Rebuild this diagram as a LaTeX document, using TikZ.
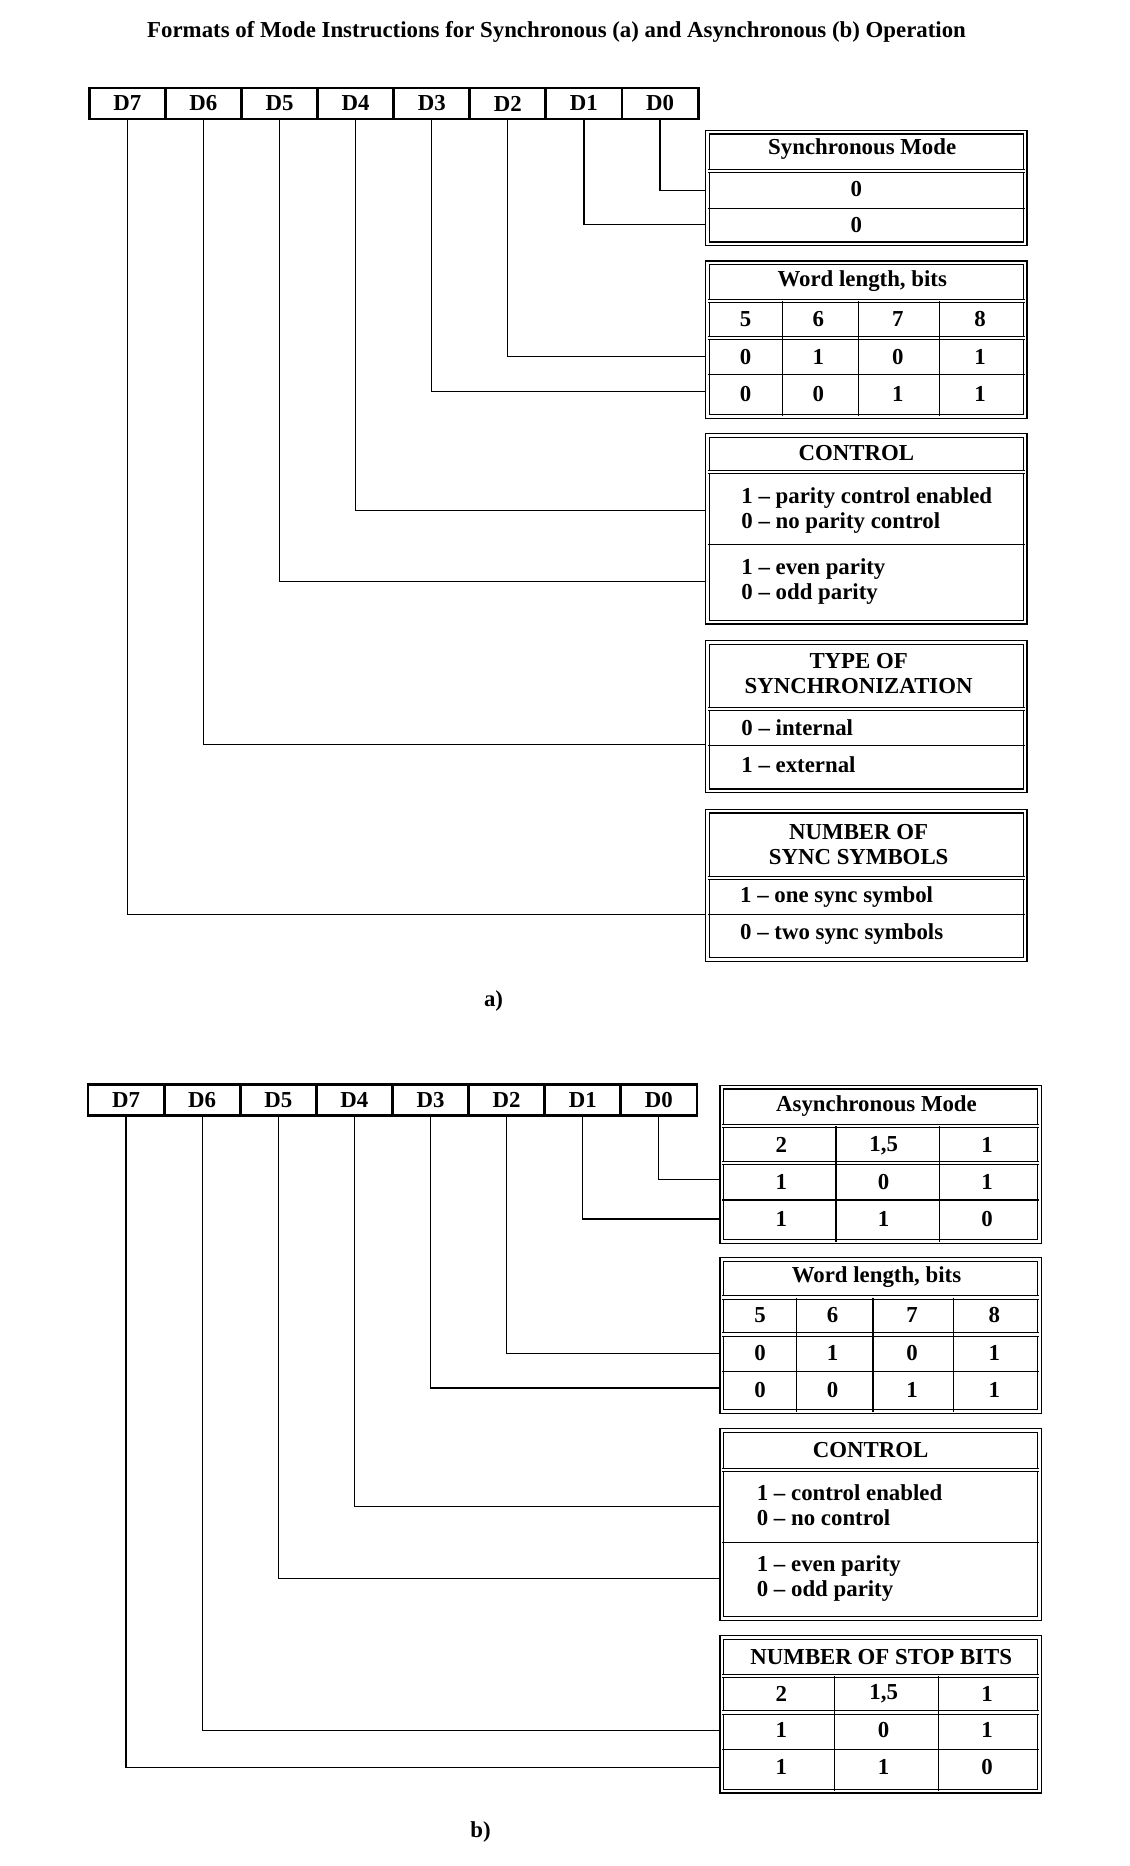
\documentclass[tikz,border=0pt]{standalone}
\usepackage{fontspec}
\setmainfont{Liberation Serif}
\usetikzlibrary{positioning,calc}
\tikzset{
  bit/.style={rectangle, draw, line width=1.2pt, minimum width=32pt, minimum height=13pt, inner sep=0pt, font=\fontsize{9.6}{11}\selectfont\bfseries},
  frame/.style={double, double distance=1.1pt, line width=0.5pt},
  sep/.style={line width=0.5pt},
  hsep/.style={double, double distance=1pt, line width=0.4pt},
  txt/.style={font=\fontsize{9.6}{10.5}\selectfont\bfseries, inner sep=0pt, align=center},
  ltxt/.style={font=\fontsize{9.6}{10.5}\selectfont\bfseries, inner sep=0pt, align=left, anchor=west},
  wire/.style={line width=0.5pt}
}
\begin{document}
\begin{tikzpicture}[x=0.5pt, y=-0.5pt]
\useasboundingbox (0,0) rectangle (950,1569);

\node[txt, font=\fontsize{9.6}{11}\selectfont\bfseries] (title) at (468,27) {Formats of Mode Instructions for Synchronous (a) and Asynchronous (b) Operation};

% bit rows
\foreach \b [count=\i from 0] in {D7,D6,D5,D4,D3,D2,D1,D0} {
  \node[bit] (a\b) at (107+64*\i,87) {\b};
  \node[bit] (b\b) at (106+64*\i,925) {\b};
}

% ---------- a) synchronous ----------
% Synchronous Mode
\draw[frame] (595,111) rectangle (862,205);
\draw[hsep] (595,144) -- (862,144);
\draw[sep] (595,175) -- (862,175);
\node[txt] (sm) at (725,125) {Synchronous Mode};
\node[txt] at (720,159) {0};
\node[txt] at (720,189) {0};
% Word length
\draw[frame] (595,221) rectangle (862,350);
\draw[hsep] (595,253) -- (862,253);
\draw[hsep] (595,284) -- (862,284);
\draw[sep] (595,315) -- (862,315);
\foreach \x in {658,722,790} \draw[sep] (\x,253) -- (\x,350);
\node[txt] at (725,236) {Word length, bits};
\foreach \x/\p/\q/\r in {627/5/0/0,688/6/1/0,755/7/0/1,824/8/1/1} {
  \node[txt] at (\x,268) {\p};
  \node[txt] at (\x,300) {\q};
  \node[txt] at (\x,331) {\r};
}
% Control
\draw[frame] (595,366) rectangle (862,523);
\draw[hsep] (595,397) -- (862,397);
\draw[sep] (595,458) -- (862,458);
\node[txt] at (720,381) {CONTROL};
\node[ltxt] at (623,429) {1 -- parity control enabled\\0 -- no parity control};
\node[ltxt] at (623,489) {1 -- even parity\\0 -- odd parity};
% Type of synchronization
\draw[frame] (595,540) rectangle (862,665);
\draw[hsep] (595,596) -- (862,596);
\draw[sep] (595,627) -- (862,627);
\node[txt] at (722,566) {TYPE OF\\SYNCHRONIZATION};
\node[ltxt] at (623,612) {0 -- internal};
\node[ltxt] at (623,643) {1 -- external};
% Number of sync symbols
\draw[frame] (595,682) rectangle (862,807);
\draw[hsep] (595,738) -- (862,738);
\draw[sep] (595,769) -- (862,769);
\node[txt] at (722,710) {NUMBER OF\\SYNC SYMBOLS};
\node[ltxt] at (622,754) {1 -- one sync symbol};
\node[ltxt] at (622,785) {0 -- two sync symbols};

% wires a)
\foreach \b/\y in {D0/160,D1/189,D2/300,D3/329,D4/429,D5/489,D6/626,D7/769} {
  \coordinate (ea\b) at (593,\y);
  \draw[wire] (a\b.south) |- (ea\b);
}
\node[txt] (la) at (415,842) {a)};

% ---------- b) asynchronous ----------
% Asynchronous Mode
\draw[frame] (607,914) rectangle (874,1044);
\draw[hsep] (607,947) -- (874,947);
\draw[hsep] (607,978) -- (874,978);
\draw[sep] (607,1009) -- (874,1009);
\foreach \x in {703,790} \draw[sep] (\x,947) -- (\x,1044);
\node[txt] at (737,930) {Asynchronous Mode};
\foreach \x/\p/\q/\r in {657/2/1/1,743/{1,5}/0/1,830/1/1/0} {
  \node[txt] at (\x,963) {\p};
  \node[txt] at (\x,994) {\q};
  \node[txt] at (\x,1025) {\r};
}
% Word length
\draw[frame] (607,1059) rectangle (874,1187);
\draw[hsep] (607,1091) -- (874,1091);
\draw[hsep] (607,1122) -- (874,1122);
\draw[sep] (607,1153) -- (874,1153);
\foreach \x in {670,734,802} \draw[sep] (\x,1091) -- (\x,1187);
\node[txt] at (737,1074) {Word length, bits};
\foreach \x/\p/\q/\r in {639/5/0/0,700/6/1/0,767/7/0/1,836/8/1/1} {
  \node[txt] at (\x,1106) {\p};
  \node[txt] at (\x,1138) {\q};
  \node[txt] at (\x,1169) {\r};
}
% Control
\draw[frame] (607,1203) rectangle (874,1361);
\draw[hsep] (607,1236) -- (874,1236);
\draw[sep] (607,1297) -- (874,1297);
\node[txt] at (732,1219) {CONTROL};
\node[ltxt] at (636,1266) {1 -- control enabled\\0 -- no control};
\node[ltxt] at (636,1327) {1 -- even parity\\0 -- odd parity};
% Number of stop bits
\draw[frame] (607,1377) rectangle (874,1506);
\draw[hsep] (607,1409) -- (874,1409);
\draw[hsep] (607,1440) -- (874,1440);
\draw[sep] (607,1471) -- (874,1471);
\foreach \x in {702,789} \draw[sep] (\x,1409) -- (\x,1506);
\node[txt] at (741,1393) {NUMBER OF STOP BITS};
\foreach \x/\p/\q/\r in {657/2/1/1,743/{1,5}/0/1,830/1/1/0} {
  \node[txt] at (\x,1424) {\p};
  \node[txt] at (\x,1455) {\q};
  \node[txt] at (\x,1486) {\r};
}

% wires b)
\foreach \b/\y in {D0/992,D1/1025,D2/1138,D3/1167,D4/1267,D5/1327,D6/1455,D7/1486} {
  \coordinate (eb\b) at (605,\y);
  \draw[wire] (b\b.south) |- (eb\b);
}
\node[txt] (lb) at (404,1540) {b)};
\end{tikzpicture}
\end{document}
